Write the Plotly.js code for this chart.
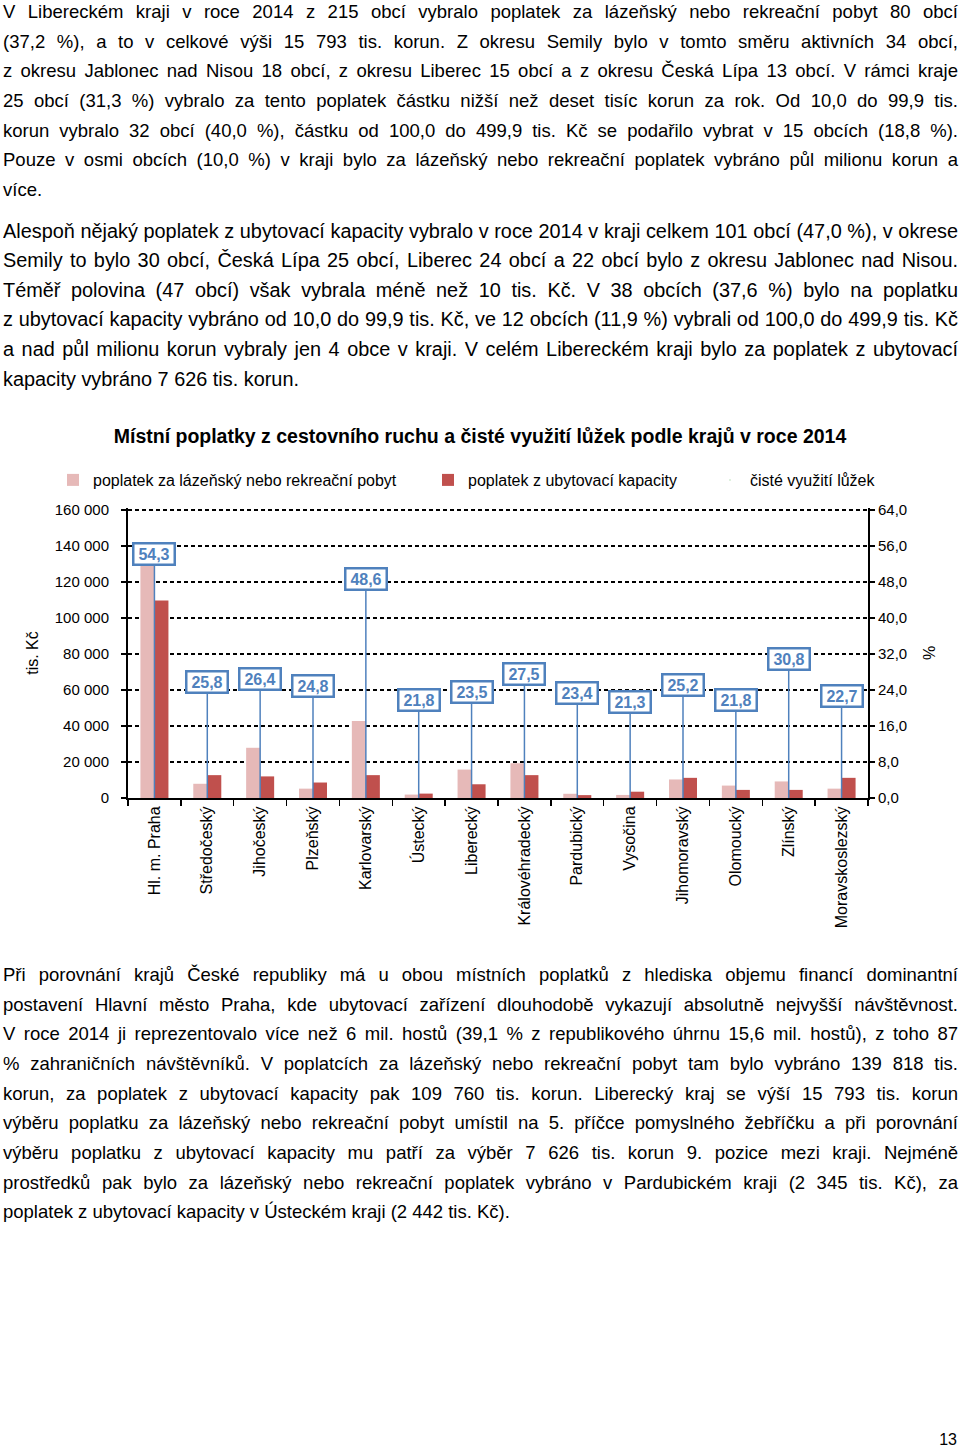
<!DOCTYPE html>
<html>
<head>
<meta charset="utf-8">
<script src="https://cdn.plot.ly/plotly-3.0.1.min.js"></script>
<style>
  html, body { margin:0; padding:0; background:#fff; }
  body { width:960px; height:1448px; position:relative; overflow:hidden; font-family:"Liberation Sans", Arial, sans-serif; color:#000; }
  .para { position:absolute; left:3px; width:955px; font-size:18.5px; line-height:29.65px; }
  .para div { text-align:justify; text-align-last:justify; }
  .para div.last { text-align:left; text-align-last:left; }
  .para div.first { line-height:23.65px; margin-bottom:3px; }
  .para.narrow { font-size:20px; }
  .para.narrow div { transform-origin:0 0; }
  #chart { position:absolute; left:0; top:415px; width:960px; height:530px; }
  #pagenum { position:absolute; right:3px; top:1431px; font-size:16px; }
  #measure { position:absolute; left:0; top:0; visibility:hidden; white-space:nowrap; font-family:"Liberation Sans", Arial, sans-serif; font-size:20px; }
</style>
</head>
<body>
<div class="para" style="top:0px;">
  <div class="first">V Libereckém kraji v roce 2014 z 215 obcí vybralo poplatek za lázeňský nebo rekreační pobyt 80 obcí</div>
  <div>(37,2 %), a to v celkové výši 15 793 tis. korun. Z okresu Semily bylo v tomto směru aktivních 34 obcí,</div>
  <div>z okresu Jablonec nad Nisou 18 obcí, z okresu Liberec 15 obcí a z okresu Česká Lípa 13 obcí. V rámci kraje</div>
  <div>25 obcí (31,3 %) vybralo za tento poplatek částku nižší než deset tisíc korun za rok. Od 10,0 do 99,9 tis.</div>
  <div>korun vybralo 32 obcí (40,0 %), částku od 100,0 do 499,9 tis. Kč se podařilo vybrat v 15 obcích (18,8 %).</div>
  <div>Pouze v osmi obcích (10,0 %) v kraji bylo za lázeňský nebo rekreační poplatek vybráno půl milionu korun a</div>
  <div class="last">více.</div>
</div>
<div class="para narrow" id="p2" style="top:216.5px;">
  <div>Alespoň nějaký poplatek z ubytovací kapacity vybralo v roce 2014 v kraji celkem 101 obcí (47,0 %), v okrese</div>
  <div>Semily to bylo 30 obcí, Česká Lípa 25 obcí, Liberec 24 obcí a 22 obcí bylo z okresu Jablonec nad Nisou.</div>
  <div>Téměř polovina (47 obcí) však vybrala méně než 10 tis. Kč. V 38 obcích (37,6 %) bylo na poplatku</div>
  <div>z ubytovací kapacity vybráno od 10,0 do 99,9 tis. Kč, ve 12 obcích (11,9 %) vybrali od 100,0 do 499,9 tis. Kč</div>
  <div>a nad půl milionu korun vybraly jen 4 obce v kraji. V celém Libereckém kraji bylo za poplatek z ubytovací</div>
  <div class="last">kapacity vybráno 7 626 tis. korun.</div>
</div>
<div id="chart"></div>
<div class="para" style="top:960px;">
  <div>Při porovnání krajů České republiky má u obou místních poplatků z hlediska objemu financí dominantní</div>
  <div>postavení Hlavní město Praha, kde ubytovací zařízení dlouhodobě vykazují absolutně nejvyšší návštěvnost.</div>
  <div>V roce 2014 ji reprezentovalo více než 6 mil. hostů (39,1 % z republikového úhrnu 15,6 mil. hostů), z toho 87</div>
  <div>% zahraničních návštěvníků. V poplatcích za lázeňský nebo rekreační pobyt tam bylo vybráno 139 818 tis.</div>
  <div>korun, za poplatek z ubytovací kapacity pak 109 760 tis. korun. Liberecký kraj se výší 15 793 tis. korun</div>
  <div>výběru poplatku za lázeňský nebo rekreační pobyt umístil na 5. příčce pomyslného žebříčku a při porovnání</div>
  <div>výběru poplatku z ubytovací kapacity mu patří za výběr 7 626 tis. korun 9. pozice mezi kraji. Nejméně</div>
  <div>prostředků pak bylo za lázeňský nebo rekreační poplatek vybráno v Pardubickém kraji (2 345 tis. Kč), za</div>
  <div class="last">poplatek z ubytovací kapacity v Ústeckém kraji (2 442 tis. Kč).</div>
</div>
<div id="pagenum">13</div>
<span id="measure"></span>

<script>
// condensed look for the second paragraph: scale each line horizontally so the widest line fits naturally
(function () {
  const lines = Array.from(document.querySelectorAll("#p2 div"));
  const m = document.getElementById("measure");
  const W = 955;
  let maxW = 0;
  lines.forEach(l => { if (!l.classList.contains("last")) { m.textContent = l.textContent; maxW = Math.max(maxW, m.getBoundingClientRect().width); } });
  m.remove();
  const s = W / (maxW + 2);
  lines.forEach(l => { l.style.width = (W / s) + "px"; l.style.transform = "scaleX(" + s + ")"; });
})();

// ---- data ----
const regions = ["Hl. m. Praha", "Středočeský", "Jihočeský", "Plzeňský", "Karlovarský", "Ústecký", "Liberecký",
                 "Královéhradecký", "Pardubický", "Vysočina", "Jihomoravský", "Olomoucký", "Zlínský", "Moravskoslezský"];
// poplatek za lázeňský nebo rekreační pobyt (tis. Kč)
const spaFee = [139818, 7900, 27900, 5200, 42800, 1900, 15793, 19300, 2345, 1700, 10300, 6900, 9200, 5200];
// poplatek z ubytovací kapacity (tis. Kč)
const capacityFee = [109760, 12700, 12000, 8600, 12700, 2442, 7626, 12700, 1600, 3500, 11200, 4500, 4500, 11200];
// čisté využití lůžek (%)
const bedUse = [54.3, 25.8, 26.4, 24.8, 48.6, 21.8, 23.5, 27.5, 23.4, 21.3, 25.2, 21.8, 30.8, 22.7];

const leftTicks = [0, 20000, 40000, 60000, 80000, 100000, 120000, 140000, 160000];
const rightTicks = [0, 8, 16, 24, 32, 40, 48, 56, 64];

const seriesNames = ["poplatek za lázeňský nebo rekreační pobyt", "poplatek z ubytovací kapacity", "čisté využití lůžek"];
const leftTitle = "tis. Kč";
const rightTitle = "%";
const chartTitle = "Místní poplatky z cestovního ruchu a čisté využití lůžek podle krajů v roce 2014";

const blue = "#4F81BD";
const FONT = "Liberation Sans, Arial, sans-serif";

const traces = [
  { type: "bar", name: seriesNames[0], x: regions, y: spaFee, marker: { color: "#E6B9B8" }, legend: "legend", hoverinfo: "x+y" },
  { type: "bar", name: seriesNames[1], x: regions, y: capacityFee, marker: { color: "#C0504D" }, legend: "legend2", hoverinfo: "x+y" },
  { type: "scatter", mode: "markers", name: seriesNames[2], x: regions, y: bedUse, yaxis: "y2",
    marker: { size: 1, opacity: 0 }, legend: "legend3",
    error_y: { type: "data", symmetric: false, array: bedUse.map(() => 0), arrayminus: bedUse,
               width: 0, thickness: 1.5, color: blue } }
];

const annotations = bedUse.map((v, i) => ({
  x: regions[i], y: v, xref: "x", yref: "y2",
  text: "<b>" + v.toFixed(1).replace(".", ",") + "</b>",
  showarrow: false, xanchor: "center", yanchor: "middle",
  font: { family: FONT, size: 16, color: blue },
  bgcolor: "#ffffff", bordercolor: blue, borderwidth: 2.5, borderpad: 1,
  width: 37, height: 17
}));

const legendBase = {
  orientation: "h", xref: "container", yref: "container", yanchor: "middle", y: 1 - 65 / 530,
  font: { family: FONT, size: 16, color: "#000" }, bgcolor: "rgba(0,0,0,0)", itemwidth: 30
};

// plot area: 290 px tall, top 2 px above the 160 000 line so that its gridline is drawn
const plotH = 290, unitH = 288;
const leftMax = 160000 * plotH / unitH;
const rightMax = 64 * plotH / unitH;

const layout = {
  width: 960, height: 530,
  margin: { l: 128, r: 92, t: 530 - 147 - plotH, b: 147 },
  paper_bgcolor: "#fff", plot_bgcolor: "#fff",
  separators: ", ",
  font: { family: FONT, size: 15, color: "#000" },
  title: { text: "<b>" + chartTitle + "</b>", x: 0.5, xanchor: "center", xref: "container",
           y: 1 - 21 / 530, yref: "container", yanchor: "middle",
           font: { family: FONT, size: 19.5, color: "#000" } },
  barmode: "group", bargap: 0.47, bargroupgap: 0,
  showlegend: true,
  legend: Object.assign({}, legendBase, { x: 53 / 960 }),
  legend2: Object.assign({}, legendBase, { x: 428 / 960 }),
  legend3: Object.assign({}, legendBase, { x: 710 / 960 }),
  xaxis: {
    type: "category", range: [-0.5, regions.length - 0.5], tickangle: -90, tickfont: { family: FONT, size: 16 },
    showline: true, linecolor: "#000", linewidth: 2,
    ticks: "outside", tickson: "boundaries", ticklen: 6, tickwidth: 1.5, tickcolor: "#000",
    showgrid: false, zeroline: false, fixedrange: true
  },
  yaxis: {
    range: [0, leftMax], tickvals: leftTicks, tickformat: ",d",
    showline: true, linecolor: "#000", linewidth: 2,
    ticks: "outside", ticklen: 5, tickwidth: 1.5, tickcolor: "#000", ticklabelstandoff: 9,
    showgrid: true, gridcolor: "#000", gridwidth: 1.5, griddash: "4px,3px",
    zeroline: false, tickfont: { family: FONT, size: 15 },
    title: { text: leftTitle, standoff: 12, font: { family: FONT, size: 16 } }, fixedrange: true
  },
  yaxis2: {
    overlaying: "y", side: "right", range: [0, rightMax], tickvals: rightTicks, tickformat: ".1f",
    showline: true, linecolor: "#000", linewidth: 2,
    ticks: "outside", ticklen: 5, tickwidth: 1.5, tickcolor: "#000",
    showgrid: false, zeroline: false, tickfont: { family: FONT, size: 15 },
    title: { text: rightTitle, standoff: 18, font: { family: FONT, size: 16 } }, fixedrange: true
  },
  annotations: annotations
};

Plotly.newPlot("chart", traces, layout, { displayModeBar: false, staticPlot: true });
</script>
</body>
</html>
